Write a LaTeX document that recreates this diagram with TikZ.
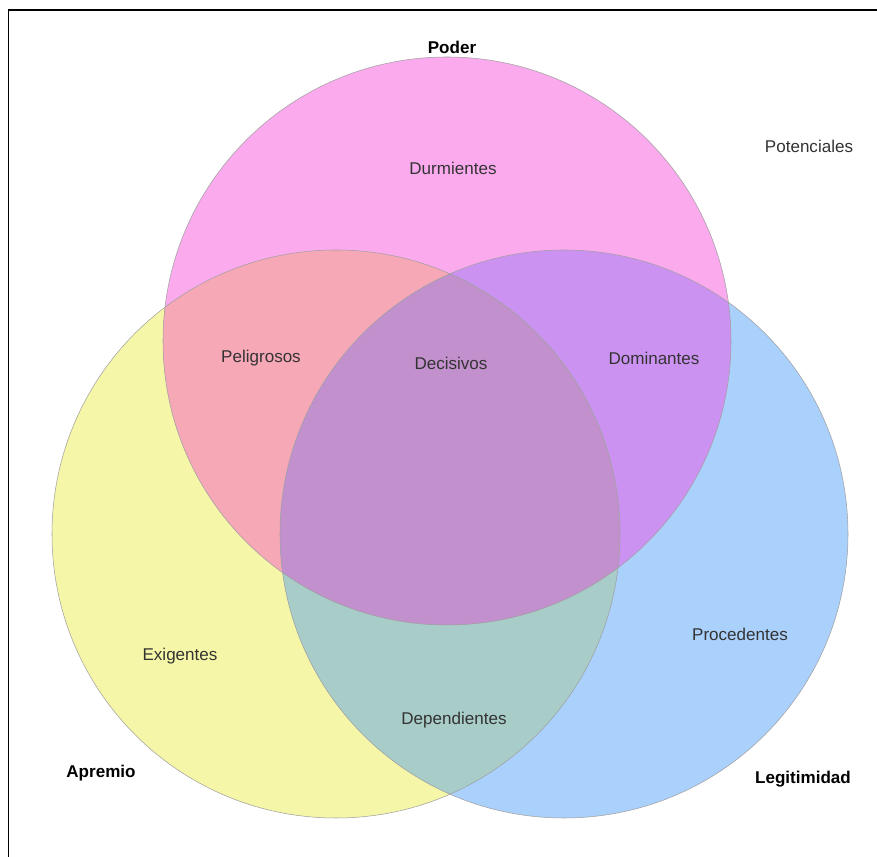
\documentclass[tikz,border=0pt]{standalone}
\usepackage{fontspec}
\setmainfont{Liberation Sans}
\definecolor{poder}{HTML}{FBAAEE}
\definecolor{apremio}{HTML}{F6F6A8}
\definecolor{legit}{HTML}{AAD0FC}
\definecolor{poderapremio}{HTML}{F6A8B6}
\definecolor{poderlegit}{HTML}{CC92F2}
\definecolor{apremiolegit}{HTML}{A8CCC8}
\definecolor{todos}{HTML}{C290CC}
\definecolor{rimgrey}{HTML}{A0A0A0}
\definecolor{textgrey}{HTML}{333333}
\usetikzlibrary{positioning}
\tikzstyle{base}=[x=0.02cm, y=-0.02cm]
\tikzstyle{region}=[font=\fontsize{9.7}{12}\selectfont, text=textgrey, inner sep=0pt]
\tikzstyle{set}=[inner sep=0pt, font=\fontsize{9.7}{12}\selectfont\bfseries, text=black]
\tikzstyle{rim}=[draw=rimgrey, line width=0.3pt]

\begin{document}
\begin{tikzpicture}[base]
    \useasboundingbox (0,0) rectangle (877,857);
    \fill [white] (0,0) rectangle (877,857);
    \draw [black, line width=0.9pt] (8.5,857) -- (8.5,10) -- (877,10);
    % centres
    \coordinate (P) at (447,341);
    \coordinate (A) at (336,534);
    \coordinate (L) at (564,534);
    % the three sets
    \fill [apremio] (A) circle (284);
    \fill [legit] (L) circle (284);
    \fill [poder] (P) circle (284);
    % overlaps
    \begin{scope}
        \clip (P) circle (284);
        \fill [poderapremio] (A) circle (284);
        \fill [poderlegit] (L) circle (284);
    \end{scope}
    \begin{scope}
        \clip (A) circle (284);
        \fill [apremiolegit] (L) circle (284);
    \end{scope}
    \begin{scope}
        \clip (A) circle (284);
        \clip (L) circle (284);
        \fill [todos] (P) circle (284);
    \end{scope}
    \draw [rim] (A) circle (284);
    \draw [rim] (L) circle (284);
    \draw [rim] (P) circle (284);
    % labels
    \node [set] (poder) at (452,47) {Poder};
    \node [set] (apremio) at (101,773) {Apremio};
    \node [set] (legitimidad) at (803,779) {Legitimidad};
    \node [region] (potenciales) at (809,146) {Potenciales};
    \node [region] (durmientes) at (453,168) {Durmientes};
    \node [region] (peligrosos) at (261,358) {Peligrosos};
    \node [region] (decisivos) at (451,363) {Decisivos};
    \node [region] (dominantes) at (654,358) {Dominantes};
    \node [region] (exigentes) at (180,656) {Exigentes};
    \node [region] (procedentes) at (740,634) {Procedentes};
    \node [region] (dependientes) at (454,720) {Dependientes};
\end{tikzpicture}
\end{document}
